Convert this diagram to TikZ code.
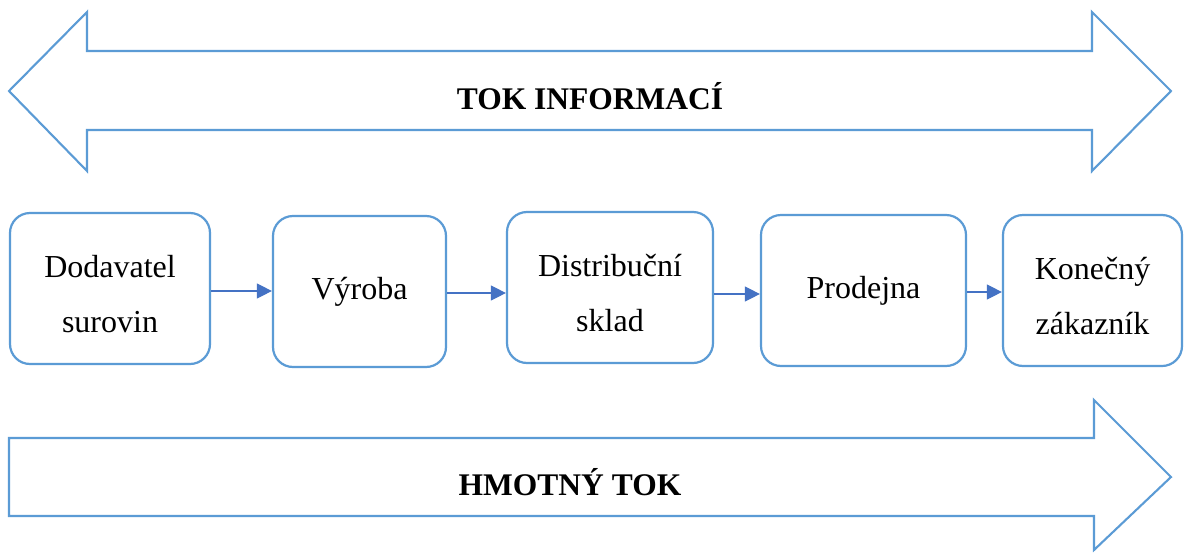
\documentclass[tikz,border=0pt]{standalone}
\usepackage{fontspec}
\setmainfont{Liberation Serif}
\usetikzlibrary{arrows.meta}
\definecolor{outl}{RGB}{91,155,213}
\definecolor{conncol}{RGB}{68,114,196}
\newcommand{\lowstrut}{\rule{0pt}{34pt}}
\tikzset{
  bigarrow/.style={draw=outl, line width=2.1pt, line join=miter, fill=white},
  stagebox/.style={draw=outl, line width=2.2pt, rounded corners=20pt, fill=white,
    inner sep=0pt, align=center, minimum height=151pt,
    font={\fontsize{32}{55}\selectfont}},
  conn/.style={draw=conncol, line width=1.2pt, -{Triangle[length=15pt,width=15pt]}},
  flowlabel/.style={anchor=base, inner sep=0pt, font={\fontsize{31.5}{36}\selectfont\bfseries}}
}
\begin{document}
\begin{tikzpicture}[x=1pt,y=-1pt]
\useasboundingbox (0,0) rectangle (1184,552);
% information flow (double arrow)
\draw[bigarrow] (9,91) -- (87,12) -- (87,51) -- (1092,51) -- (1092,12) -- (1171,91)
  -- (1092,171) -- (1092,130) -- (87,130) -- (87,171) -- cycle;
\node[flowlabel] (info) at (590,109) {TOK INFORMACÍ};
% material flow (single arrow)
\draw[bigarrow] (9,438) -- (1094,438) -- (1094,400) -- (1171,477) -- (1094,550)
  -- (1094,516) -- (9,516) -- cycle;
\node[flowlabel] (mat) at (570,495) {HMOTNÝ TOK};
% stages
\node[stagebox, minimum width=200pt] (b1) at (110,288.5) {\lowstrut Dodavatel\\surovin};
\node[stagebox, minimum width=173pt] (b2) at (359.5,291.5) {Výroba};
\node[stagebox, minimum width=206pt] (b3) at (610,287.5) {\lowstrut Distribuční\\sklad};
\node[stagebox, minimum width=205pt] (b4) at (863.5,290.5) {Prodejna};
\node[stagebox, minimum width=179pt] (b5) at (1092.5,290.5) {\lowstrut Konečný\\zákazník};
% connectors
\coordinate (y1) at (0,291);
\coordinate (y2) at (0,293);
\coordinate (y3) at (0,294);
\coordinate (y4) at (0,292);
\draw[conn] (b1.east |- y1) -- (b2.west |- y1);
\draw[conn] (b2.east |- y2) -- (b3.west |- y2);
\draw[conn] (b3.east |- y3) -- (b4.west |- y3);
\draw[conn] (b4.east |- y4) -- (b5.west |- y4);
\end{tikzpicture}
\end{document}
